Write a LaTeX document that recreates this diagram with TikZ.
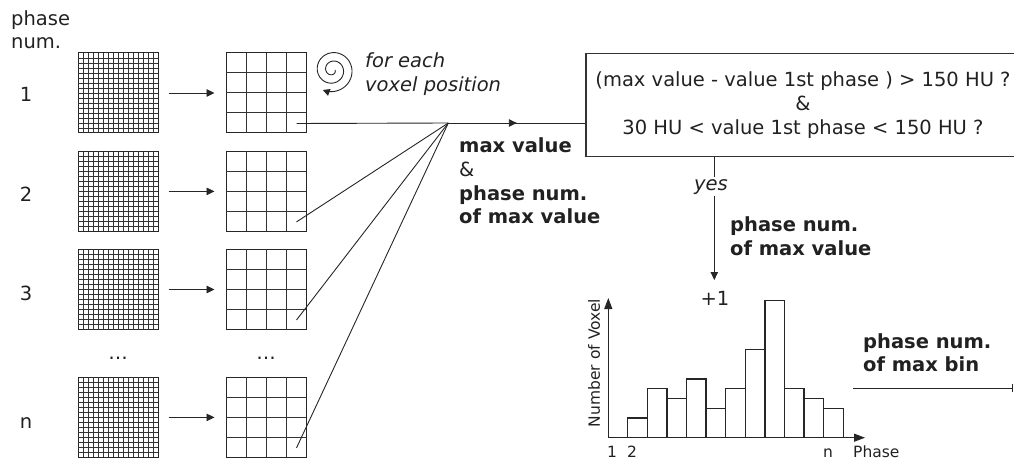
\documentclass[tikz,border=0pt]{standalone}
\usepackage{fontspec}
\setmainfont{DejaVu Sans}
\usetikzlibrary{arrows.meta,decorations.markings}
\begin{document}
\begin{tikzpicture}[x=1pt,y=1pt,
  every node/.style={text=black!87, inner sep=0pt},
  big/.style={font=\fontsize{19.5}{23.7}\selectfont},
  bigit/.style={font=\fontsize{19.5}{23.7}\selectfont\itshape},
  bigbf/.style={font=\fontsize{19.5}{23.7}\selectfont\bfseries},
  small/.style={font=\fontsize{15.5}{18}\selectfont},
  conn/.style={draw=black!85, line width=0.9pt},
  arr/.style={conn, -{Triangle[length=8pt,width=7.5pt]}},
  gridbox/.style={draw=black!85, line width=1pt, minimum size=80pt, inner sep=0pt},
  finepic/.pic={\foreach \i in {-35,-30,...,35}{\draw[black!80, line width=0.8pt] (\i,-40)--(\i,40) (-40,\i)--(40,\i);}},
  coarsepic/.pic={\foreach \i in {-20,0,20}{\draw[black!80, line width=1pt] (\i,-40)--(\i,40) (-40,\i)--(40,\i);}},
  histbar/.style={draw=black!85, line width=1.3pt, fill=white},
  axis/.style={draw=black!85, line width=1.2pt, -{Triangle[length=11pt,width=8pt]}},
]
\useasboundingbox (0,0) rectangle (1014,461);
\clip (0,0) rectangle (1014,461);

% left labels
\node[big, anchor=north west, align=left] (phlabel) at (11,451) {phase\\num.};
\node[big, anchor=base] (n1) at (26,359) {1};
\node[big, anchor=base] (n2) at (26,259) {2};
\node[big, anchor=base] (n3) at (26,161) {3};
\node[big, anchor=base] (nn) at (26,33) {n};

% grids
\foreach \name/\yy in {1/368, 2/269.6, 3/171.5, n/43.6} {
  \node[gridbox] (f\name) at (118,\yy) {};
  \pic at (f\name) {finepic};
  \node[gridbox] (c\name) at (266,\yy) {};
  \pic at (c\name) {coarsepic};
  \draw[arr] ([xshift=10pt]f\name.east) -- ([xshift=-11pt]c\name.west);
}
\node[big, anchor=base] (dotsf) at (118,102) {\dots};
\node[big, anchor=base] (dotsc) at (266,102) {\dots};

% spiral
\draw[conn, -{Triangle[length=7pt,width=7pt]}] plot[domain=0:836, samples=160, smooth, variable=\t]
  ({332.5+(2.5+0.02356*\t)*cos(\t)}, {391-(2.5+0.02356*\t)*sin(\t)});
\node[bigit, anchor=north west, align=left] (foreach) at (365,408.3) {for each\\voxel position};

% converging lines
\coordinate (M) at (448.3,338);
\draw[conn] ([shift={(-10,10)}]c1.south east) -- (M);
\draw[conn] ([shift={(-10,10)}]c2.south east) -- (M);
\draw[conn] ([shift={(-10,10)}]c3.south east) -- (M);
\draw[conn] ([shift={(-10,10)}]cn.south east) -- (M);

% condition box
\node[big, draw=black!80, line width=1.3pt, minimum width=434pt, minimum height=103.4pt, align=center] (cond) at (803,356)
  {(max value - value 1st phase ) > 150 HU ?\\\&\\30 HU < value 1st phase < 150 HU ?};
\draw[conn, postaction={decorate}, decoration={markings, mark=at position 0.5 with {\arrow{Triangle[length=8pt,width=7.5pt]}}}]
  (M) -- (M -| cond.west);
\node[bigbf, anchor=north west, align=left] (maxtxt) at (459,323.3) {max value\\{\mdseries\&}\\phase num.\\of max value};

% yes arrow
\coordinate (tip) at (714.3,181);
\draw[arr] (cond.south -| tip) -- (tip);
\node[bigit, anchor=base, fill=white, inner sep=2pt] (yes) at (711,270.7) {yes};
\node[big, anchor=base] (plus) at (715,156) {+1};
\node[bigbf, anchor=north west, align=left] (pnmax) at (730,244.3) {phase num.\\of max value};

% histogram
\coordinate (O) at (608.3,23.3);
\foreach \h [count=\k from 0] in {2,5,4,6,3,5,9,14,5,4,3}
  \draw[histbar] (627.7+19.6*\k, 23.3) rectangle ++(19.6, 9.8*\h);
\draw[axis] (O) -- (608.3,163);
\draw[axis] (O) -- (865,23.3);
\node[small, anchor=base] (l1) at (612,4) {1};
\node[small, anchor=base] (l2) at (632,4) {2};
\node[small, anchor=base] (ln) at (828,4) {n};
\node[small, anchor=base west] (lphase) at (853,4) {Phase};
\node[small, rotate=90] (ylab) at (594,98) {Number of Voxel};

% output
\node[bigbf, anchor=north west, align=left] (pnbin) at (863,127.8) {phase num.\\of max bin};
\coordinate (outstart) at (853,73);
\coordinate (outend) at (1012.7,73);
\draw[conn, -{Bar[width=8pt]}] (outstart) -- (outend);
\end{tikzpicture}
\end{document}
